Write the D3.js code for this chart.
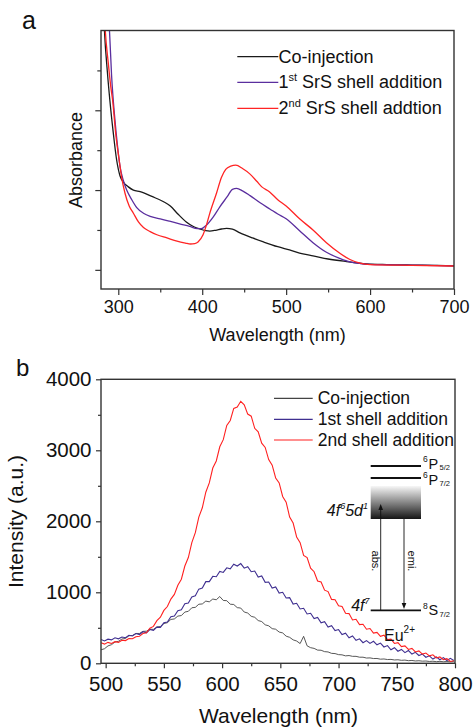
<!DOCTYPE html>
<html><head><meta charset="utf-8">
<script src="https://cdn.jsdelivr.net/npm/d3@7"></script>
<style>body{margin:0;background:#fff} svg{display:block;font-family:"Liberation Sans",Arial,Helvetica,sans-serif}</style>
</head><body><svg id="c" width="473" height="728"></svg>
<script>
// ---------- Panel a: absorbance ----------
const absSeriesNames = ["Co-injection", "1st SrS shell addition", "2nd SrS shell addtion"];
const absXTicks = [300, 400, 500, 600, 700];
const absXMinor = [350, 450, 550, 650];
const absYTicks = [0, 0.5, 1.0];
const absYMinor = [0.25, 0.75, 1.25];
const absCoInjection = [[282.5,1.62],[283.5,1.5],[287,1.24],[290,1.06],[294,0.86],[298,0.69],[302,0.59],[306,0.55],[312,0.52],[318,0.50],[326,0.49],[340,0.46],[354,0.427],[362,0.40],[371,0.35],[381,0.30],[390,0.27],[397,0.256],[404,0.246],[409,0.243],[416,0.248],[423,0.256],[429,0.26],[436,0.255],[445,0.232],[460,0.2],[473,0.175],[490,0.145],[504,0.125],[520,0.1],[532,0.0875],[550,0.068],[572,0.052],[596,0.038],[620,0.033],[650,0.03],[680,0.028],[700,0.025]];
const absShell1 = [[288,1.62],[289.5,1.5],[292,1.22],[296,0.94],[299,0.78],[302,0.65],[306,0.56],[310,0.5],[316,0.44],[322,0.39],[330,0.355],[338,0.335],[350,0.32],[361,0.305],[373,0.288],[385,0.272],[394,0.258],[399,0.258],[405,0.28],[413,0.33],[421,0.395],[430,0.46],[436,0.505],[441,0.51],[448,0.495],[457,0.465],[469,0.42],[481,0.38],[490,0.35],[500,0.32],[516,0.245],[532,0.17],[548,0.11],[564,0.072],[576,0.05],[588,0.04],[600,0.034],[650,0.03],[700,0.025]];
const absShell2 = [[283.3,1.62],[284.5,1.5],[288,1.3],[291,1.15],[293.3,1.06],[297,0.85],[301,0.69],[304,0.58],[308,0.48],[313,0.40],[318,0.355],[324,0.3],[330,0.265],[338,0.24],[346,0.22],[358,0.2],[370,0.18],[380,0.168],[386,0.162],[391,0.165],[395,0.175],[401,0.22],[405,0.28],[409,0.354],[417,0.48],[423,0.58],[428,0.63],[434,0.65],[440,0.656],[448,0.635],[457,0.6],[465,0.555],[471,0.52],[480,0.49],[490,0.44],[500,0.40],[516,0.32],[532,0.25],[548,0.17],[564,0.104],[576,0.065],[588,0.042],[600,0.033],[650,0.028],[700,0.024]];

// ---------- Panel b: photoluminescence ----------
const plSeriesNames = ["Co-injection", "1st shell addition", "2nd shell addition"];
const plXTicks = [500, 550, 600, 650, 700, 750, 800];
const plXMinor = [525, 575, 625, 675, 725, 775];
const plYTicks = [0, 1000, 2000, 3000, 4000];
const plYMinor = [500, 1500, 2500, 3500];
const plWavelengths = d3.range(496, 800, 3); // 496 ... 799
const plCoInjection = [190,205,245,262,300,310,342,350,388,392,420,420,450,452,480,478,512,518,560,572,618,625,665,672,722,732,782,788,832,836,876,866,905,895,940,885,882,832,828,784,778,722,708,662,648,602,588,542,528,488,480,440,428,382,366,330,314,278,380,246,220,210,186,184,164,160,140,137,122,119,105,109,98,98,86,86,74,76,67,68,58,61,53,55,47,50,42,45,37,40,33,36,30,32,26,29,23,27,22,25,21,24];
const plShell1 = [335,315,340,330,360,345,370,360,395,385,420,405,445,430,475,465,510,505,570,580,655,665,740,755,840,850,935,950,1045,1060,1150,1150,1225,1220,1295,1280,1345,1330,1395,1370,1405,1340,1360,1290,1300,1215,1230,1140,1145,1060,1075,990,1000,920,925,835,845,765,775,695,705,630,645,570,585,510,530,460,475,405,425,360,385,325,345,290,320,280,310,260,285,230,250,190,220,170,195,150,180,130,155,110,130,85,105,60,90,50,80,40,70,40];
const plShell2 = [290,270,295,280,305,295,325,320,350,345,375,380,420,430,495,520,600,650,745,800,905,970,1100,1185,1370,1490,1700,1840,2060,2190,2410,2540,2750,2850,3050,3150,3350,3420,3590,3610,3690,3640,3510,3480,3310,3260,3100,3040,2870,2790,2610,2540,2350,2270,2060,1975,1780,1700,1520,1490,1340,1290,1160,1145,1030,1010,900,895,810,800,705,700,610,620,545,550,480,490,425,435,380,395,335,340,280,290,235,245,195,210,160,175,130,145,105,120,75,90,50,65,25,35];

const svg = d3.select("#c");

// ================= Panel a =================
const ax = d3.scaleLinear().domain([279.4, 700]).range([101, 454]);
const ay = d3.scaleLinear().domain([-0.12, 1.5]).range([289, 30.5]);
svg.append("clipPath").attr("id","clipA").append("rect")
  .attr("x",101).attr("y",30.5).attr("width",353).attr("height",258.5);
const absLine = d3.line().x(d=>ax(d[0])).y(d=>ay(d[1])).curve(d3.curveMonotoneX);
const absColors = ["#1a1a1a", "#5a2e9e", "#ff2424"];
[absCoInjection, absShell1, absShell2].forEach((s,i)=>{
  svg.append("path").attr("d", absLine(s)).attr("fill","none")
    .attr("stroke", absColors[i]).attr("stroke-width",1.3).attr("clip-path","url(#clipA)");
});
function styleAxis(g){ g.select(".domain").remove(); g.selectAll("line").attr("stroke","#333").attr("stroke-width",1.2); }
svg.append("g").attr("transform","translate(0,289)")
  .call(d3.axisBottom(ax).tickValues(absXTicks).tickSize(6).tickPadding(5))
  .call(styleAxis).call(g=>g.selectAll("text").attr("font-size",18).attr("fill","#111").attr("font-family",null));
svg.append("g").attr("transform","translate(0,289)")
  .call(d3.axisBottom(ax).tickValues(absXMinor).tickSize(3.5).tickFormat(""))
  .call(styleAxis);
svg.append("g").attr("transform","translate(101,0)")
  .call(d3.axisLeft(ay).tickValues(absYTicks).tickSize(5.7).tickFormat(""))
  .call(styleAxis);
svg.append("g").attr("transform","translate(101,0)")
  .call(d3.axisLeft(ay).tickValues(absYMinor).tickSize(3.7).tickFormat(""))
  .call(styleAxis);
svg.append("rect").attr("x",101).attr("y",30.5).attr("width",353).attr("height",258.5)
  .attr("fill","none").attr("stroke","#333").attr("stroke-width",1.4);
svg.append("text").attr("x",22).attr("y",29).attr("font-size",25).attr("fill","#111").text("a");
svg.append("text").attr("transform","translate(81.5,160) rotate(-90)").attr("text-anchor","middle")
  .attr("font-size",18).attr("fill","#111").text("Absorbance");
svg.append("text").attr("x",277.5).attr("y",341).attr("text-anchor","middle")
  .attr("font-size",18).attr("fill","#111").text("Wavelength (nm)");
const legA = [56.7, 82.3, 108.3];
absSeriesNames.forEach((name,i)=>{
  const y = legA[i];
  svg.append("line").attr("x1",237.3).attr("x2",278.3).attr("y1",y).attr("y2",y)
    .attr("stroke",absColors[i]).attr("stroke-width",1.3);
  const t = svg.append("text").attr("x",278.5).attr("y",y+6).attr("font-size",18).attr("fill","#111");
  const m = name.match(/^(\d)(st|nd)(.*)$/);
  if (m) {
    t.append("tspan").text(m[1]);
    t.append("tspan").attr("font-size",11).attr("dy",-7).text(m[2]);
    t.append("tspan").attr("dy",7).text(m[3]);
  } else t.text(name);
});

// ================= Panel b =================
const bx = d3.scaleLinear().domain([496, 800]).range([101, 455]);
const by = d3.scaleLinear().domain([0, 4000]).range([663.3, 379.3]);
svg.append("clipPath").attr("id","clipB").append("rect")
  .attr("x",101).attr("y",379.3).attr("width",354).attr("height",284);
const plColors = ["#444444", "#3f2f90", "#ff2020"];
const plLine = d3.line().x((d,i)=>bx(plWavelengths[i])).y(d=>by(d));
[plCoInjection, plShell1, plShell2].forEach((s,i)=>{
  svg.append("path").attr("d", plLine(s)).attr("fill","none")
    .attr("stroke", plColors[i]).attr("stroke-width", i===0 ? 0.9 : 1.1).attr("clip-path","url(#clipB)");
});
svg.append("g").attr("transform","translate(0,663.3)")
  .call(d3.axisBottom(bx).tickValues(plXTicks).tickSize(5).tickPadding(8.5))
  .call(styleAxis).call(g=>g.selectAll("text").attr("font-size",20.5).attr("fill","#111").attr("font-family",null));
svg.append("g").attr("transform","translate(0,663.3)")
  .call(d3.axisBottom(bx).tickValues(plXMinor).tickSize(3).tickFormat(""))
  .call(styleAxis);
svg.append("g").attr("transform","translate(101,0)")
  .call(d3.axisLeft(by).tickValues(plYTicks).tickSize(5).tickPadding(4.5).tickFormat(d3.format("d")))
  .call(styleAxis).call(g=>g.selectAll("text").attr("font-size",20.5).attr("fill","#111").attr("font-family",null));
svg.append("g").attr("transform","translate(101,0)")
  .call(d3.axisLeft(by).tickValues(plYMinor).tickSize(3).tickFormat(""))
  .call(styleAxis);
svg.append("rect").attr("x",101).attr("y",379.3).attr("width",354).attr("height",284)
  .attr("fill","none").attr("stroke","#333").attr("stroke-width",1.4);
svg.append("text").attr("x",16).attr("y",376).attr("font-size",24).attr("fill","#111").text("b");
svg.append("text").attr("transform","translate(23,521.5) rotate(-90)").attr("text-anchor","middle")
  .attr("font-size",21).attr("fill","#111").text("Intensity (a.u.)");
svg.append("text").attr("x",278.5).attr("y",723).attr("text-anchor","middle")
  .attr("font-size",21).attr("fill","#111").text("Wavelength (nm)");
const legB = [398.3, 419.3, 440];
plSeriesNames.forEach((name,i)=>{
  svg.append("line").attr("x1",274).attr("x2",312.7).attr("y1",legB[i]).attr("y2",legB[i])
    .attr("stroke",plColors[i]).attr("stroke-width",1.2);
  svg.append("text").attr("x",317.7).attr("y",legB[i]+6).attr("font-size",17.5).attr("fill","#111").text(name);
});

// ---------- Eu2+ energy level inset ----------
const defs = svg.append("defs");
const grad = defs.append("linearGradient").attr("id","gband").attr("x1",0).attr("x2",0).attr("y1",0).attr("y2",1);
grad.append("stop").attr("offset","0%").attr("stop-color","#f7f7f7");
grad.append("stop").attr("offset","100%").attr("stop-color","#151515");
const inset = svg.append("g").attr("fill","#111");
inset.append("line").attr("x1",370.7).attr("x2",421).attr("y1",466).attr("y2",466).attr("stroke","#111").attr("stroke-width",1.8);
inset.append("line").attr("x1",370.7).attr("x2",421).attr("y1",478).attr("y2",478).attr("stroke","#111").attr("stroke-width",1.8);
inset.append("rect").attr("x",370.7).attr("y",486).attr("width",50.3).attr("height",33).attr("fill","url(#gband)");
inset.append("line").attr("x1",370.7).attr("x2",421).attr("y1",610.3).attr("y2",610.3).attr("stroke","#111").attr("stroke-width",1.8);
inset.append("line").attr("x1",380.7).attr("x2",380.7).attr("y1",610).attr("y2",509).attr("stroke","#111").attr("stroke-width",0.9);
inset.append("path").attr("d","M380.7,504 L378.4,510 L383,510 Z").attr("fill","#111");
inset.append("line").attr("x1",404).attr("x2",404).attr("y1",519).attr("y2",604).attr("stroke","#111").attr("stroke-width",0.9);
inset.append("path").attr("d","M404,609 L401.7,603 L406.3,603 Z").attr("fill","#111");
inset.append("text").attr("transform","translate(372,561) rotate(90)").attr("text-anchor","middle")
  .attr("font-size",11).text("abs.");
inset.append("text").attr("transform","translate(407.5,561) rotate(90)").attr("text-anchor","middle")
  .attr("font-size",11).text("emi.");
function levelLabel(x, y, sup, main, sub){
  inset.append("text").attr("x",x).attr("y",y-6.5).attr("font-size",8.5).text(sup);
  inset.append("text").attr("x",x+5.5).attr("y",y).attr("font-size",14.5).text(main);
  inset.append("text").attr("x",x+16.5).attr("y",y+1.5).attr("font-size",7.5).text(sub);
}
levelLabel(423, 468.5, "6", "P", "5/2");
levelLabel(423, 484.5, "6", "P", "7/2");
levelLabel(423, 615, "8", "S", "7/2");
const t1 = inset.append("text").attr("x",368).attr("y",516).attr("text-anchor","end").attr("font-size",16).attr("font-style","italic");
t1.append("tspan").text("4f");
t1.append("tspan").attr("font-size",9).attr("dy",-7).text("6");
t1.append("tspan").attr("dy",7).text("5d");
t1.append("tspan").attr("font-size",9).attr("dy",-7).text("1");
const t2 = inset.append("text").attr("x",369.5).attr("y",611).attr("text-anchor","end").attr("font-size",16).attr("font-style","italic");
t2.append("tspan").text("4f");
t2.append("tspan").attr("font-size",9).attr("dy",-7).text("7");
const t3 = inset.append("text").attr("x",384).attr("y",641).attr("font-size",16);
t3.append("tspan").text("Eu");
t3.append("tspan").attr("font-size",10).attr("dy",-8).text("2+");
</script></body></html>
